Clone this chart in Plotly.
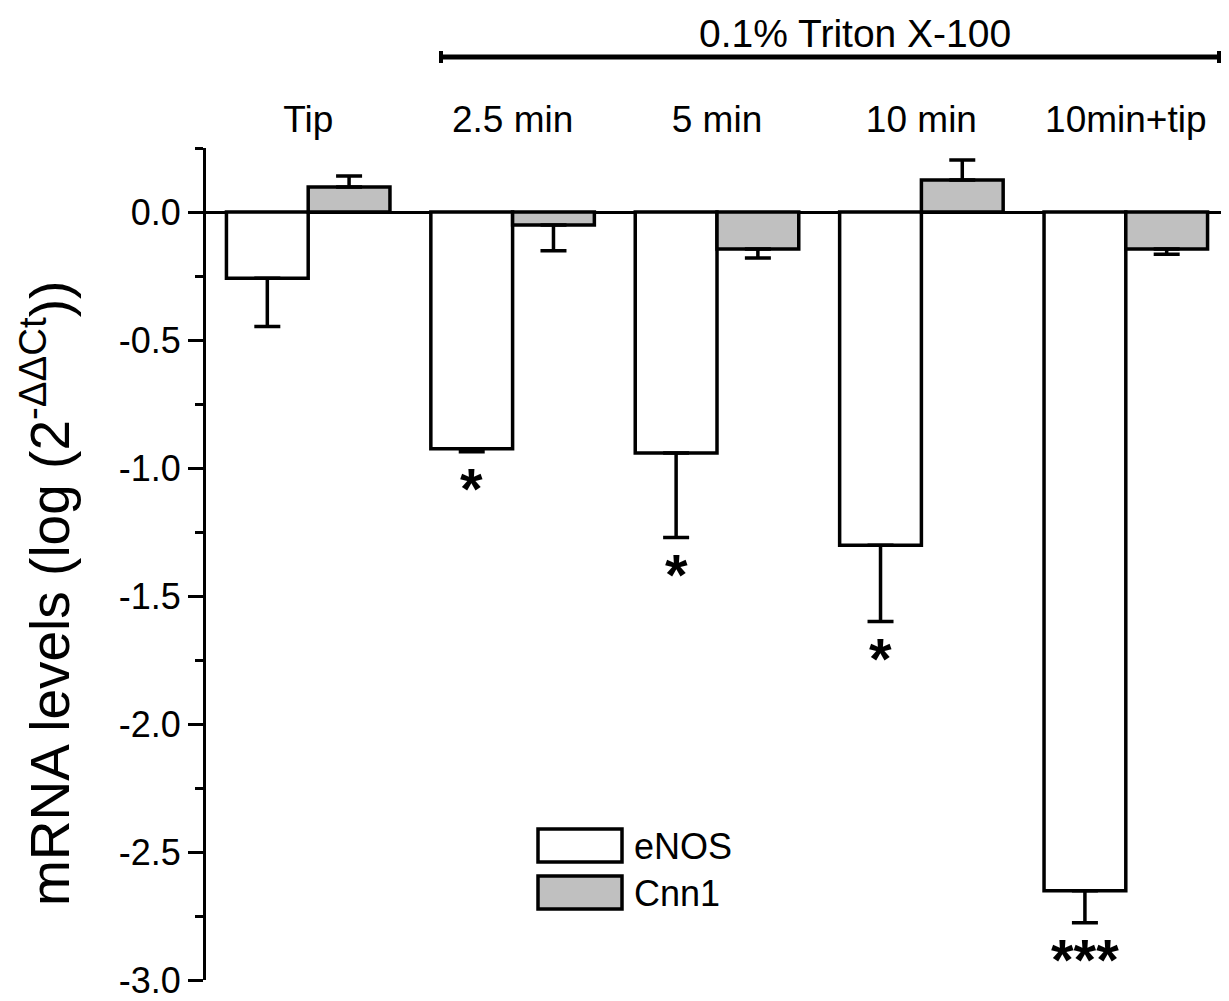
import plotly.graph_objects as go

# ---- data ----
categories = ["Tip", "2.5 min", "5 min", "10 min", "10min+tip"]
enos_mean = [-0.259, -0.925, -0.941, -1.302, -2.651]
enos_err = [0.188, 0.012, 0.330, 0.298, 0.125]
cnn1_mean = [0.098, -0.051, -0.145, 0.125, -0.145]
cnn1_err = [0.043, 0.100, 0.035, 0.078, 0.020]
enos_sig = ["", "*", "*", "*", "***"]
ytick_vals = [0.0, -0.5, -1.0, -1.5, -2.0, -2.5, -3.0]
bracket_label = "0.1% Triton X-100"
ytitle = "mRNA levels (log (2<sup>-ΔΔCt</sup>))"

FONT = "Liberation Sans, Arial, sans-serif"
OFF = 8  # page body margin offset
W, H = 1229 - OFF, 1001 - OFF
ML, MR, MT, MB = 206 - OFF, 1, 148 - OFF, 21
PW, PH = W - ML - MR, H - MT - MB


def px_x(px):
    """reference page pixel x -> paper x"""
    return (px - OFF - ML) / PW


def px_y(py):
    """reference page pixel y -> paper y"""
    return (H - MB - (py - OFF)) / PH


def one_sided(means, errs):
    plus = [e if m >= 0 else 0 for m, e in zip(means, errs)]
    minus = [e if m < 0 else 0 for m, e in zip(means, errs)]
    return plus, minus


xs = list(range(len(categories)))
fig = go.Figure()
for name, means, errs, color in [("eNOS", enos_mean, enos_err, "#FFFFFF"),
                                 ("Cnn1", cnn1_mean, cnn1_err, "#C0C0C0")]:
    plus, minus = one_sided(means, errs)
    fig.add_trace(go.Bar(
        x=xs, y=means, name=name,
        marker=dict(color=color, line=dict(color="black", width=3.5)),
        error_y=dict(type="data", symmetric=False, array=plus, arrayminus=minus,
                     color="black", thickness=3.5, width=13),
        showlegend=False,
    ))

# significance stars under eNOS error bars
for i, (m, e, s) in enumerate(zip(enos_mean, enos_err, enos_sig)):
    if s:
        fig.add_annotation(x=i - 0.2, y=m - e, text=s, showarrow=False,
                           xref="x", yref="y", yanchor="middle", yshift=-37,
                           font=dict(family=FONT, size=58, color="black", weight="bold"))

# bracket for Triton X-100
bx0, bx1 = px_x(441), px_x(1219)
by = px_y(57)
fig.add_shape(type="line", xref="paper", yref="paper", x0=bx0, x1=bx1, y0=by, y1=by,
              line=dict(color="black", width=5))
for bx in (bx0, bx1):
    fig.add_shape(type="line", xref="paper", yref="paper", x0=bx, x1=bx,
                  y0=px_y(51), y1=px_y(63), line=dict(color="black", width=4))
fig.add_annotation(x=px_x(855), y=px_y(34), xref="paper", yref="paper",
                   text=bracket_label, showarrow=False, yanchor="middle",
                   font=dict(family=FONT, size=39, color="black"))

# y-axis title (placed as rotated text)
fig.add_annotation(x=px_x(46), y=px_y(594), xref="paper", yref="paper",
                   text=ytitle, showarrow=False, textangle=-90,
                   xanchor="center", yanchor="middle",
                   font=dict(family=FONT, size=55, color="black"))

# manual legend
legend_items = [("eNOS", "#FFFFFF", 829), ("Cnn1", "#C0C0C0", 876)]
for name, color, top in legend_items:
    fig.add_shape(type="rect", xref="paper", yref="paper",
                  x0=px_x(538), x1=px_x(622), y0=px_y(top), y1=px_y(top + 33),
                  fillcolor=color, line=dict(color="black", width=3.5))
    fig.add_annotation(x=px_x(632), y=px_y(top + 17), xref="paper", yref="paper",
                       text=name, showarrow=False, xanchor="left", yanchor="middle",
                       font=dict(family=FONT, size=36, color="black"))

fig.update_layout(
    width=W, height=H,
    margin=dict(l=ML, r=MR, t=MT, b=MB, autoexpand=False),
    paper_bgcolor="white", plot_bgcolor="white",
    barmode="group", bargap=0.2, bargroupgap=0,
    font=dict(family=FONT, color="black"),
)
fig.update_xaxes(
    range=[-0.5, len(categories) - 0.5], side="top",
    tickvals=xs, ticktext=categories, ticks="", showline=False,
    showgrid=False, zeroline=False, ticklabelstandoff=8,
    tickfont=dict(family=FONT, size=37, color="black"),
)
fig.update_yaxes(
    range=[-3.0, 0.25], tickvals=ytick_vals,
    ticktext=[f"{v:.1f}" for v in ytick_vals],
    ticks="outside", ticklen=15, tickwidth=3, tickcolor="black",
    minor=dict(dtick=0.25, ticks="outside", ticklen=8, tickwidth=3, tickcolor="black"),
    showline=True, linewidth=3, linecolor="black", showgrid=False,
    zeroline=True, zerolinecolor="black", zerolinewidth=2.5,
    tickfont=dict(family=FONT, size=36, color="black"),
)

fig.write_html("out.html")
